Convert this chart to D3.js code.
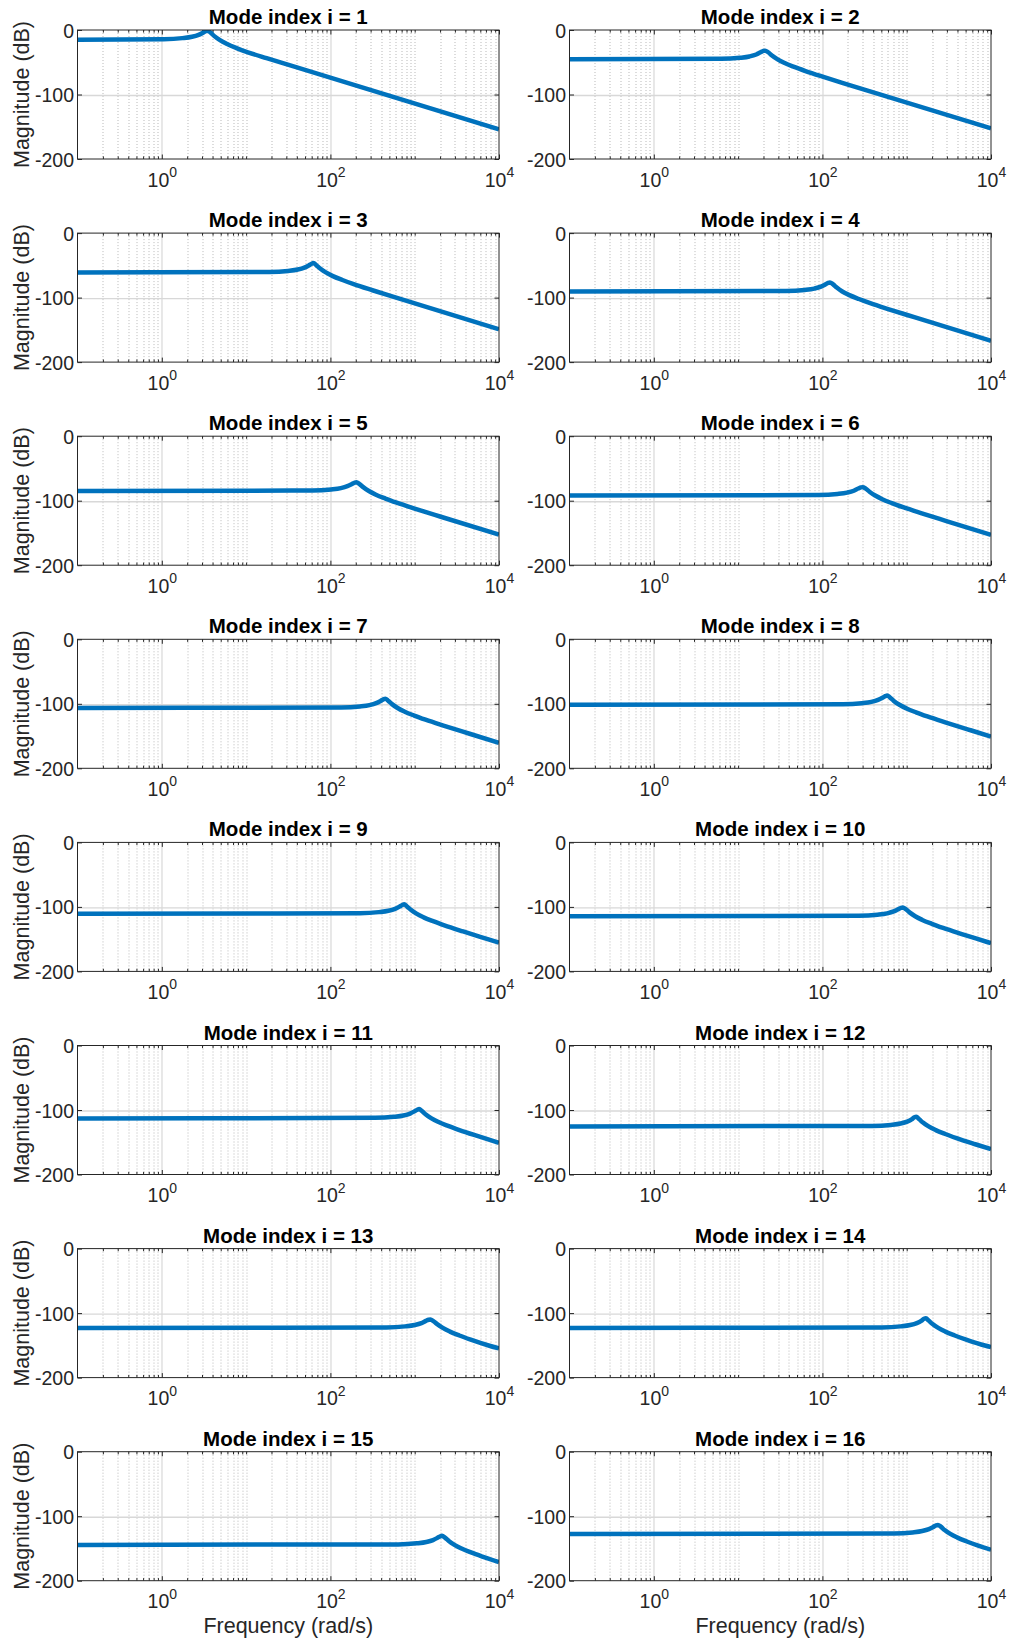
<!DOCTYPE html>
<html>
<head>
<meta charset="utf-8">
<script src="https://cdn.jsdelivr.net/npm/d3@7"></script>
<style>
  body { margin: 0; background: #fff; }
  svg { display: block; }
  text { font-family: "Liberation Sans", Arial, Helvetica, sans-serif; }
</style>
</head>
<body>
<svg id="chart" width="1010" height="1644"></svg>
<script>
// ---- data: Bode magnitude per mode, [frequency (rad/s), magnitude (dB)] ----
const mode1  = [[0.1,-15],[1.05,-14.2],[1.75,-12.6],[2.28,-10.5],[2.73,-7.5],[3.08,-4.1],[3.33,-1.6],[3.5,-1],[3.78,-3.9],[4.2,-9.5],[4.9,-15.8],[5.95,-21.7],[7.7,-28],[10.5,-34.5],[17.5,-43.6],[35,-55.5],[10000,-154]];
const mode2  = [[0.1,-45.5],[6.3,-44.7],[10.5,-43.1],[13.65,-41],[16.4,-38],[18.5,-34.6],[19.95,-32.5],[21,-32],[22.7,-34.5],[25.2,-39.5],[29.4,-45.5],[35.7,-51.2],[46.2,-57.2],[63,-63.6],[105,-73.1],[210,-85.4],[10000,-152.5]];
const mode3  = [[0.1,-61],[18.9,-60.2],[31.5,-58.6],[41,-56.5],[49.1,-53.5],[55.4,-50.1],[59.9,-47.6],[63,-46.5],[68,-49.7],[75.6,-55],[88.2,-61],[107,-66.7],[139,-72.7],[189,-79.1],[315,-88.6],[630,-100.9],[10000,-149]];
const mode4  = [[0.1,-90.5],[36.9,-89.7],[61.5,-88.1],[80,-86],[96,-83],[108,-79.6],[117,-77.1],[123,-76.5],[133,-79.2],[148,-84.5],[172,-90.5],[209,-96.2],[271,-102.2],[369,-108.6],[615,-118.1],[1230,-130.4],[10000,-167]];
const mode5  = [[0.1,-85],[61,-84.2],[102,-82.6],[133,-80.5],[159,-77.5],[180,-74.1],[194,-71.9],[204,-71.5],[220,-73.9],[245,-79],[286,-85],[347,-90.7],[449,-96.7],[612,-103.1],[1020,-112.6],[2040,-124.9],[10000,-152.5]];
const mode6  = [[0.1,-92],[91,-91.2],[151,-89.6],[196,-87.5],[236,-84.5],[266,-81.1],[287,-79.3],[302,-79],[326,-81.2],[362,-86],[423,-92],[513,-97.7],[664,-103.7],[906,-110.1],[1510,-119.6],[3020,-131.9],[10000,-153]];
const mode7  = [[0.1,-106.5],[134,-105.7],[224,-104.1],[291,-102],[349,-99],[394,-95.6],[426,-93.1],[448,-92],[484,-95.2],[538,-100.5],[627,-106.5],[762,-112.2],[986,-118.2],[1344,-124.6],[2240,-134.1],[4480,-146.4],[10000,-160.5]];
const mode8  = [[0.1,-101.5],[176,-100.7],[293,-99.1],[381,-97],[457,-94],[516,-90.6],[557,-88.1],[586,-87],[633,-90.2],[703,-95.5],[820,-101.5],[996,-107.2],[1289,-113.2],[1758,-119.6],[2930,-129.1],[5860,-141.4],[10000,-150.7]];
const mode9  = [[0.1,-110.5],[225,-109.7],[375,-108.1],[488,-106],[585,-103],[660,-99.6],[713,-97.1],[750,-96],[810,-99.2],[900,-104.5],[1050,-110.5],[1275,-116.2],[1650,-122.2],[2250,-128.6],[3750,-138.1],[7500,-150.4],[10000,-155.5]];
const mode10 = [[0.1,-114.5],[270,-113.7],[450,-112.1],[585,-110],[702,-107],[792,-103.6],[855,-101.4],[900,-101],[972,-103.4],[1080,-108.5],[1260,-114.5],[1530,-120.2],[1980,-126.2],[2700,-132.6],[4500,-142.1],[9000,-154.4],[10000,-156.3]];
const mode11 = [[0.1,-113],[339,-112.2],[565,-110.6],[735,-108.5],[881,-105.5],[994,-102.1],[1074,-99.6],[1130,-98.5],[1220,-101.7],[1356,-107],[1582,-113],[1921,-118.7],[2486,-124.7],[3390,-131.1],[5650,-140.6],[10000,-150.8]];
const mode12 = [[0.1,-125.5],[390,-124.7],[650,-123.1],[845,-121],[1014,-118],[1144,-114.6],[1235,-111.3],[1300,-110.5],[1404,-114.2],[1560,-119.5],[1820,-125.5],[2210,-131.2],[2860,-137.2],[3900,-143.6],[6500,-153.1],[10000,-160.8]];
const mode13 = [[0.1,-123],[462,-122.2],[770,-120.6],[1001,-118.5],[1201,-115.5],[1355,-112.1],[1463,-110.3],[1540,-110],[1663,-112.5],[1848,-117],[2156,-123],[2618,-128.7],[3388,-134.7],[4620,-141.1],[7700,-150.6],[10000,-154.8]];
const mode14 = [[0.1,-123],[507,-122.2],[845,-120.6],[1099,-118.5],[1318,-115.5],[1487,-112.1],[1606,-108.8],[1690,-108],[1825,-111.7],[2028,-117],[2366,-123],[2873,-128.7],[3718,-134.7],[5070,-141.1],[8450,-150.2],[10000,-152.5]];
const mode15 = [[0.1,-144.5],[635,-143.7],[1058,-142.1],[1375,-140],[1650,-137],[1861,-133.6],[2009,-131.1],[2115,-130.5],[2284,-133.2],[2538,-138.5],[2961,-144.5],[3596,-150.2],[4653,-156.2],[6345,-162.6],[10000,-171.2]];
const mode16 = [[0.1,-127.5],[705,-126.7],[1175,-125.1],[1528,-123],[1833,-120],[2068,-116.6],[2233,-114.1],[2350,-113.5],[2538,-116.2],[2820,-121.5],[3290,-127.5],[3995,-133.2],[5170,-139.2],[7050,-145.6],[10000,-152]];

const modes = [mode1, mode2, mode3, mode4, mode5, mode6, mode7, mode8,
               mode9, mode10, mode11, mode12, mode13, mode14, mode15, mode16];
const modeIndices = [1,2,3,4,5,6,7,8,9,10,11,12,13,14,15,16];

const freqDomain = [0.1, 10000];
const magDomain  = [-200, 0];
const yTicks     = [0, -100, -200];
const xMajor     = [1, 100, 10000];
const xMajorExp  = ["0", "2", "4"];
const yLabelText = "Magnitude (dB)";
const xLabelText = "Frequency (rad/s)";

// ---- layout ----
const colLeft = [77.5, 569.5];
const plotW = 421.5, plotH = 129;
const rowTop0 = 30, rowStep = 203.1;
const lineColor = "#0072BD";
const axisColor = "#262626";
const majorTick = 4.5, minorTick = 2.6;

const svg = d3.select("#chart");
const defs = svg.append("defs");

// one clip rectangle shared by every panel (in panel-local coordinates)
defs.append("clipPath").attr("id", "plot-clip")
  .append("rect").attr("x", 0).attr("y", 0).attr("width", plotW).attr("height", plotH);

// minor decade positions (2..9 of every decade, plus the unlabeled decades)
const minorX = [];
for (let e = -1; e < 4; e++) {
  for (let m = 1; m < 10; m++) {
    const v = +(m * Math.pow(10, e)).toPrecision(6);
    if (v > 0.1 && !xMajor.includes(v)) minorX.push(v);
  }
}

modes.forEach((data, i) => {
  const col = i % 2, row = Math.floor(i / 2);
  const left = colLeft[col], top = rowTop0 + row * rowStep;

  const x = d3.scaleLog().domain(freqDomain).range([0, plotW]);
  const y = d3.scaleLinear().domain(magDomain).range([plotH, 0]);

  const g = svg.append("g").attr("transform", `translate(${left},${top})`);

  // grid: dotted minor decades, light solid majors
  g.append("g").selectAll("line").data(minorX).join("line")
    .attr("x1", d => Math.round(x(d)) + 0.5).attr("x2", d => Math.round(x(d)) + 0.5)
    .attr("y1", 0).attr("y2", plotH)
    .attr("stroke", "#b9b9b9").attr("stroke-width", 1)
    .attr("stroke-dasharray", "1,2");
  g.append("g").selectAll("line").data(xMajor.filter(v => v < 10000)).join("line")
    .attr("x1", d => Math.round(x(d)) + 0.5).attr("x2", d => Math.round(x(d)) + 0.5)
    .attr("y1", 0).attr("y2", plotH)
    .attr("stroke", "#d8d8d8").attr("stroke-width", 1.2);
  g.append("g").selectAll("line").data(yTicks.filter(v => v !== 0 && v !== -200)).join("line")
    .attr("x1", 0).attr("x2", plotW)
    .attr("y1", d => Math.round(y(d)) + 0.5).attr("y2", d => Math.round(y(d)) + 0.5)
    .attr("stroke", "#d8d8d8").attr("stroke-width", 1.4);

  // tick marks pointing inward on all four sides
  const styleAxis = a => {
    a.select(".domain").remove();
    a.selectAll(".tick line").attr("stroke", axisColor).attr("stroke-width", 1);
  };
  g.append("g").attr("transform", `translate(0,${plotH})`)
    .call(d3.axisBottom(x).tickValues(xMajor).tickSizeInner(-majorTick).tickSizeOuter(0).tickFormat(""))
    .call(styleAxis);
  g.append("g").attr("transform", `translate(0,${plotH})`)
    .call(d3.axisBottom(x).tickValues(minorX).tickSizeInner(-minorTick).tickSizeOuter(0).tickFormat(""))
    .call(styleAxis);
  g.append("g")
    .call(d3.axisTop(x).tickValues(xMajor).tickSizeInner(-majorTick).tickSizeOuter(0).tickFormat(""))
    .call(styleAxis);
  g.append("g")
    .call(d3.axisTop(x).tickValues(minorX).tickSizeInner(-minorTick).tickSizeOuter(0).tickFormat(""))
    .call(styleAxis);
  g.append("g").attr("transform", `translate(${plotW},0)`)
    .call(d3.axisRight(y).tickValues(yTicks).tickSizeInner(-majorTick).tickSizeOuter(0).tickFormat(""))
    .call(styleAxis);

  // left axis with numeric labels
  g.append("g")
    .call(d3.axisLeft(y).tickValues(yTicks).tickSizeInner(-majorTick).tickSizeOuter(0).tickPadding(3.5)
      .tickFormat(d => String(d)))
    .call(styleAxis)
    .call(a => a.selectAll(".tick text")
      .attr("fill", axisColor).attr("font-size", 19.5)
      .attr("font-family", "'Liberation Sans', Arial, sans-serif")
      .attr("dy", "0.36em"));

  // bottom labels as powers of ten
  g.append("g").attr("transform", `translate(0,${plotH})`)
    .call(d3.axisBottom(x).tickValues(xMajor).tickSize(0).tickFormat(""))
    .call(a => a.select(".domain").remove())
    .call(a => a.selectAll(".tick text").each(function(d, k) {
      const t = d3.select(this)
        .attr("y", 27.5).attr("dy", null)
        .attr("fill", axisColor).attr("font-size", 19.5)
        .attr("font-family", "'Liberation Sans', Arial, sans-serif")
        .attr("text-anchor", "middle");
      t.append("tspan").text("10");
      t.append("tspan").attr("dy", -9.5).attr("font-size", 14).text(xMajorExp[k]);
    }));

  // response curve
  const line = d3.line()
    .x(d => x(d[0])).y(d => y(d[1]))
    .curve(d3.curveMonotoneX);
  g.append("path")
    .attr("clip-path", "url(#plot-clip)")
    .datum(data)
    .attr("d", line)
    .attr("fill", "none")
    .attr("stroke", lineColor)
    .attr("stroke-width", 4.5)
    .attr("stroke-linejoin", "round");

  // axes box
  g.append("rect")
    .attr("x", 0).attr("y", 0).attr("width", plotW).attr("height", plotH)
    .attr("fill", "none").attr("stroke", axisColor).attr("stroke-width", 1);

  // title
  g.append("text")
    .attr("x", plotW / 2).attr("y", -6)
    .attr("text-anchor", "middle")
    .attr("font-size", 20.5).attr("font-weight", "bold").attr("fill", "#000")
    .text(`Mode index i = ${modeIndices[i]}`);

  // y label on the left column
  if (col === 0) {
    svg.append("text")
      .attr("transform", `translate(28.5,${top + plotH / 2}) rotate(-90)`)
      .attr("text-anchor", "middle")
      .attr("font-size", 21.5).attr("fill", axisColor)
      .text(yLabelText);
  }

  // x label on the bottom row
  if (row === 7) {
    g.append("text")
      .attr("x", plotW / 2).attr("y", plotH + 52)
      .attr("text-anchor", "middle")
      .attr("font-size", 21.5).attr("fill", axisColor)
      .text(xLabelText);
  }
});
</script>
</body>
</html>
